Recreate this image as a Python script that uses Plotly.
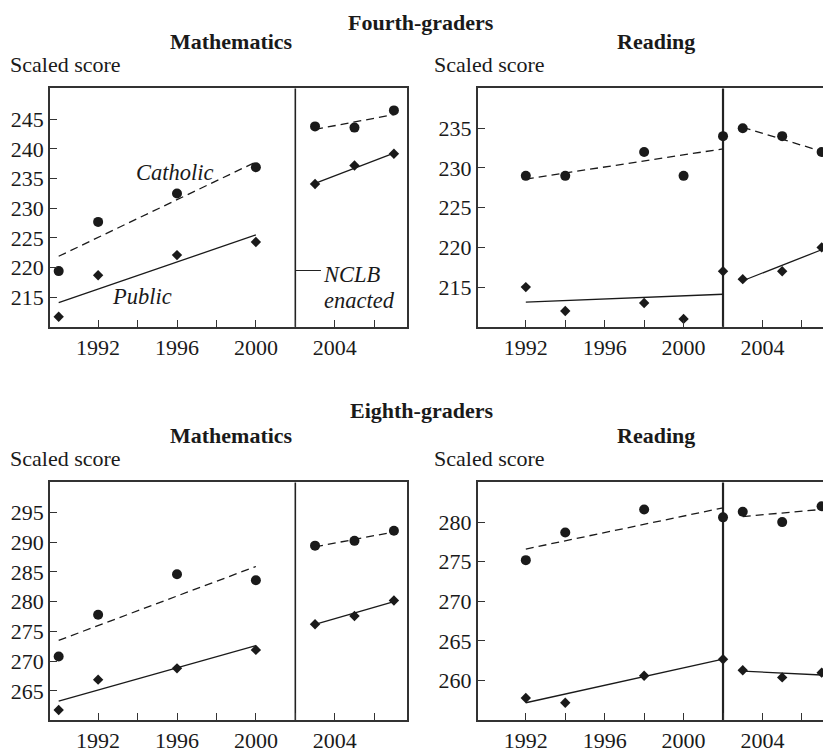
import plotly.graph_objects as go

# ---------------- data ----------------
math_years = [1990, 1992, 1996, 2000, 2003, 2005, 2007]
read4_years = [1992, 1994, 1998, 2000, 2002, 2003, 2005, 2007]
read8_years = [1992, 1994, 1998, 2002, 2003, 2005, 2007]

math4_catholic = [219.4, 227.7, 232.5, 236.9, 243.8, 243.6, 246.5]
math4_public = [211.7, 218.7, 222.1, 224.3, 234.1, 237.2, 239.2]
read4_catholic = [229, 229, 232, 229, 234, 235, 234, 232]
read4_public = [215, 212, 213, 211, 217, 216, 217, 220]
math8_catholic = [270.8, 277.8, 284.6, 283.6, 289.4, 290.2, 291.9]
math8_public = [261.8, 266.9, 268.8, 271.9, 276.2, 277.6, 280.2]
read8_catholic = [275.2, 278.7, 281.6, 280.6, 281.3, 280.0, 282.0]
read8_public = [257.8, 257.2, 260.6, 262.7, 261.3, 260.4, 261.0]

# trend line end points
math_pre_years = [1990, 2000]
read_pre_years = [1992, 2002]
post_years = [2003, 2007]
math4_cath_trend = ([221.9, 237.8], [243.3, 245.8])
math4_pub_trend = ([214.1, 225.5], [234.2, 239.3])
read4_cath_trend = ([228.6, 232.4], [235.1, 232.1])
read4_pub_trend = ([213.1, 214.1], [215.8, 219.7])
math8_cath_trend = ([273.5, 285.9], [289.2, 291.7])
math8_pub_trend = ([263.3, 272.6], [276.2, 280.0])
read8_cath_trend = ([276.6, 281.8], [280.7, 281.6])
read8_pub_trend = ([257.2, 262.7], [261.2, 260.7])

x_tickvals = [1992, 1994, 1996, 1998, 2000, 2002, 2004, 2006]
x_ticktext = ["1992", "", "1996", "", "2000", "", "2004", ""]

y_ticks_math4 = [215, 220, 225, 230, 235, 240, 245]
y_ticks_read4 = [215, 220, 225, 230, 235]
y_ticks_math8 = [265, 270, 275, 280, 285, 290, 295]
y_ticks_read8 = [260, 265, 270, 275, 280]

# ---------------- layout helpers ----------------
OFF = 8                      # page body margin
W, H = 831 - OFF, 753 - OFF
FONT = "Liberation Serif"
INK = "#1a1a1a"
FS = 22


def px_x(p):
    return (p - OFF) / W


def px_y(p):
    return 1 - (p - OFF) / H


panels = [
    (1, (50, 407), (89, 329), (210, 250.2), y_ticks_math4, False),
    (2, (477.7, 831), (89, 329), (210, 240), y_ticks_read4, True),
    (3, (50, 407), (485.7, 725), (260.1, 300), y_ticks_math8, False),
    (4, (477.7, 831), (485.7, 725), (255, 285), y_ticks_read8, True),
]

series = [
    (1, math_years, math4_catholic, math4_public, math_pre_years, math4_cath_trend, math4_pub_trend),
    (2, read4_years, read4_catholic, read4_public, read_pre_years, read4_cath_trend, read4_pub_trend),
    (3, math_years, math8_catholic, math8_public, math_pre_years, math8_cath_trend, math8_pub_trend),
    (4, read8_years, read8_catholic, read8_public, read_pre_years, read8_cath_trend, read8_pub_trend),
]

fig = go.Figure()

layout = dict(
    width=W, height=H,
    margin=dict(l=0, r=0, t=0, b=0),
    paper_bgcolor="white", plot_bgcolor="white",
    showlegend=False,
    font=dict(family=FONT, size=FS, color=INK),
)

shapes = []
annotations = []

PX_PER_YEAR = 19.72
for (idx, xd, yd, yr, yt, right) in panels:
    sfx = "" if idx == 1 else str(idx)
    x0 = 1989.56
    x1 = x0 + (xd[1] - xd[0]) / PX_PER_YEAR
    layout["xaxis" + sfx] = dict(
        domain=[px_x(xd[0]), min(1.0, px_x(xd[1]))],
        anchor="y" + sfx,
        range=[x0, x1],
        showgrid=False, zeroline=False,
        showline=True, mirror=True, linecolor="#333", linewidth=1.6,
        ticks="inside", ticklen=7, tickwidth=1.2, tickcolor="#333",
        tickvals=x_tickvals, ticktext=x_ticktext,
        tickfont=dict(family=FONT, size=FS, color=INK),
        fixedrange=True,
    )
    layout["yaxis" + sfx] = dict(
        domain=[px_y(yd[1]), px_y(yd[0])],
        anchor="x" + sfx,
        range=list(yr),
        showgrid=False, zeroline=False,
        showline=True, mirror=(not right), linecolor="#333", linewidth=1.6,
        ticks="inside", ticklen=7, tickwidth=1.2, tickcolor="#333",
        tickvals=yt,
        tickfont=dict(family=FONT, size=FS, color=INK),
        fixedrange=True,
    )
    shapes.append(dict(
        type="line", xref="x" + sfx, yref="y" + sfx + " domain",
        x0=2002, x1=2002, y0=0, y1=1,
        line=dict(color="#222", width=2.2 if right else 1.6),
        layer="below",
    ))

for (idx, yrs, cath, pub, pre_yrs, ctr, ptr) in series:
    sfx = "" if idx == 1 else str(idx)
    xa, ya = "x" + sfx, "y" + sfx
    for xs, ys in ((pre_yrs, ctr[0]), (post_years, ctr[1])):
        fig.add_trace(go.Scatter(x=xs, y=ys, mode="lines", xaxis=xa, yaxis=ya,
                                 line=dict(color=INK, width=1.3, dash="8px,5px"),
                                 hoverinfo="skip"))
    for xs, ys in ((pre_yrs, ptr[0]), (post_years, ptr[1])):
        fig.add_trace(go.Scatter(x=xs, y=ys, mode="lines", xaxis=xa, yaxis=ya,
                                 line=dict(color=INK, width=1.3),
                                 hoverinfo="skip"))
    fig.add_trace(go.Scatter(x=yrs, y=cath, mode="markers", xaxis=xa, yaxis=ya,
                             marker=dict(symbol="circle", size=10, color=INK),
                             name="Catholic", cliponaxis=False))
    fig.add_trace(go.Scatter(x=yrs, y=pub, mode="markers", xaxis=xa, yaxis=ya,
                             marker=dict(symbol="diamond", size=8, color=INK),
                             name="Public", cliponaxis=False))

# NCLB leader line (top-left panel)
shapes.append(dict(type="line", xref="x", yref="y", x0=2002, x1=2003.3, y0=219.5, y1=219.5,
                   line=dict(color="#222", width=1.1)))

LBL = 22.5
annotations += [
    dict(text="<i>Catholic</i>", x=1995.9, y=236.1, xref="x", yref="y", showarrow=False,
         font=dict(family=FONT, size=LBL, color=INK)),
    dict(text="<i>Public</i>", x=1994.2, y=215.2, xref="x", yref="y", showarrow=False,
         font=dict(family=FONT, size=LBL, color=INK)),
    dict(text="<i>NCLB</i>", x=2003.3, y=218.9, xref="x", yref="y", showarrow=False,
         xanchor="left", font=dict(family=FONT, size=LBL, color=INK)),
    dict(text="<i>enacted</i>", x=2003.35, y=214.4, xref="x", yref="y", showarrow=False,
         xanchor="left", font=dict(family=FONT, size=LBL, color=INK)),
]


def paper_text(text, xp, yp, size=FS, bold=False, xanchor="center", yanchor="middle"):
    return dict(text=("<b>%s</b>" % text) if bold else text,
                x=px_x(xp), y=px_y(yp), xref="paper", yref="paper",
                xanchor=xanchor, yanchor=yanchor, showarrow=False,
                font=dict(family=FONT, size=size, color=INK))


annotations += [
    paper_text("Fourth-graders", 421, 8, FS, True, "center", "top"),
    paper_text("Mathematics", 231, 42, FS, True),
    paper_text("Reading", 656, 42, FS, True),
    paper_text("Scaled score", 8, 65, FS, False, "left"),
    paper_text("Scaled score", 432, 65, FS, False, "left"),
    paper_text("Eighth-graders", 421, 413, FS, True),
    paper_text("Mathematics", 231, 438, FS, True),
    paper_text("Reading", 656, 438, FS, True),
    paper_text("Scaled score", 8, 462, FS, False, "left"),
    paper_text("Scaled score", 432, 462, FS, False, "left"),
]

layout["shapes"] = shapes
layout["annotations"] = annotations
fig.update_layout(**layout)

fig.write_html("out.html")
